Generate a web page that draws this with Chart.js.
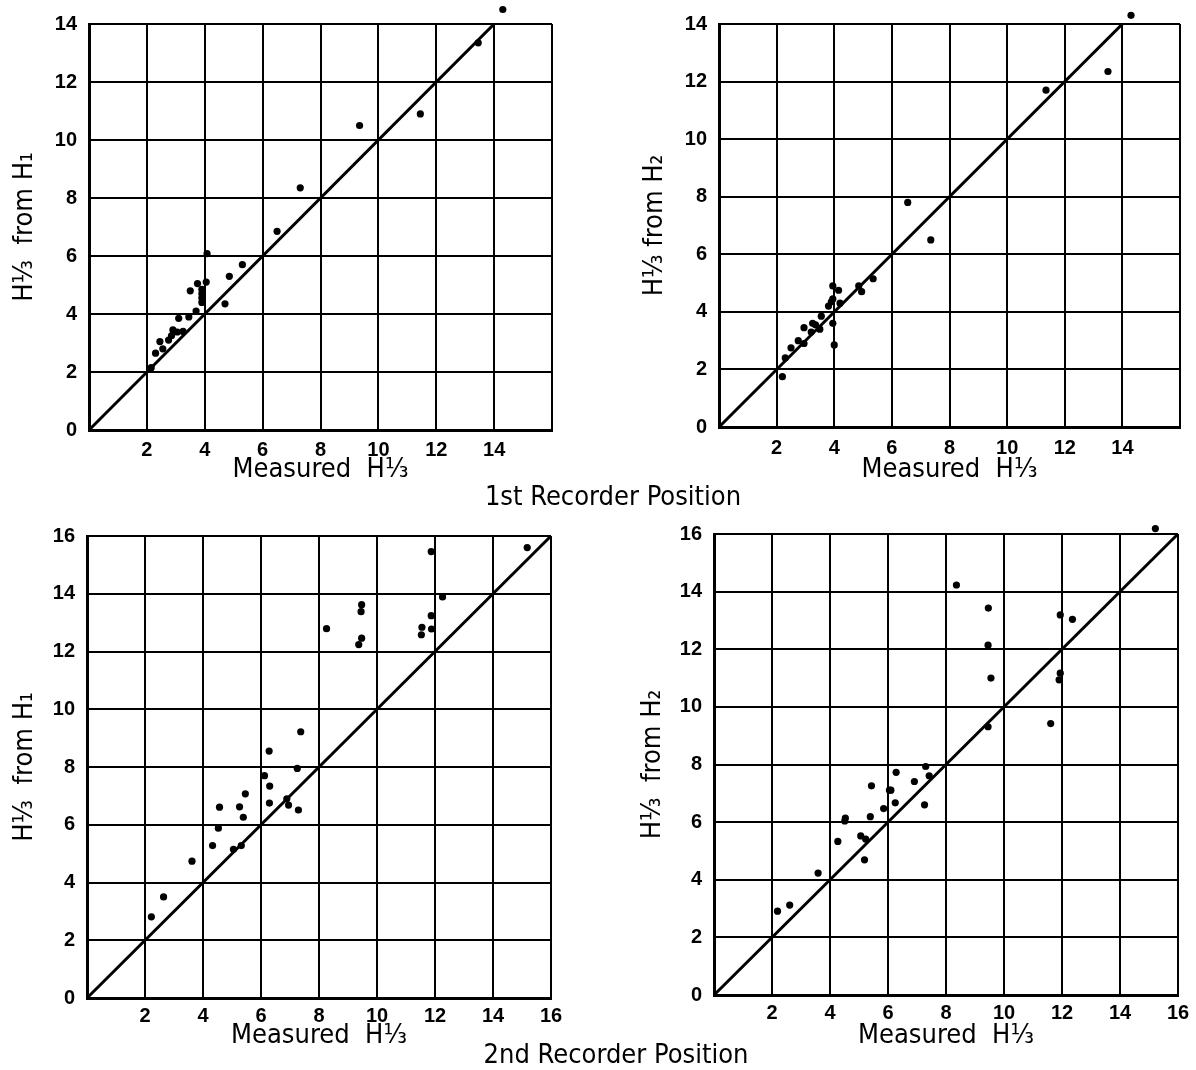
<!DOCTYPE html>
<html>
<head>
<meta charset="utf-8">
<title>Significant wave height comparison</title>
<script src="https://cdn.jsdelivr.net/npm/chart.js@4.4.1/dist/chart.umd.min.js"></script>
<style>
  html, body { margin: 0; padding: 0; background: #fff; }
  body { width: 1196px; height: 1070px; position: relative; overflow: hidden; }
  .panel { position: absolute; }
  .caption {
    position: absolute;
    font-family: "Liberation Sans Narrow", "DejaVu Sans Condensed", sans-serif;
    font-size: 27px;
    line-height: 1;
    color: #000;
    white-space: nowrap;
    transform: translateX(-50%);
  }
</style>
</head>
<body>
<div class="panel" style="left:0;top:0;width:598px;height:490px"><canvas id="first-h1"></canvas></div>
<div class="panel" style="left:630px;top:0;width:566px;height:490px"><canvas id="first-h2"></canvas></div>
<div class="panel" style="left:0;top:500px;width:598px;height:560px"><canvas id="second-h1"></canvas></div>
<div class="panel" style="left:628px;top:500px;width:568px;height:560px"><canvas id="second-h2"></canvas></div>
<div class="caption" style="left:613px;top:482px">1st Recorder Position</div>
<div class="caption" style="left:616px;top:1040px">2nd Recorder Position</div>

<script>
// Measured H1/3 against H1/3 estimated from H1 and H2, two recorder positions.

const firstH1Measured = [2.15, 2.3, 2.45, 2.55, 2.75, 2.85, 2.9, 3.05, 3.25, 3.1, 3.45, 3.5, 3.7, 3.75, 3.9, 3.9, 3.9, 3.9, 4.05, 4.08, 4.7, 4.85, 5.3, 6.5, 7.3, 9.35, 11.45, 13.45, 14.3];
const firstH1Estimate = [2.15, 2.65, 3.05, 2.8, 3.1, 3.25, 3.45, 3.38, 3.4, 3.85, 3.9, 4.8, 4.1, 5.05, 4.4, 4.55, 4.7, 4.85, 5.1, 6.08, 4.35, 5.3, 5.7, 6.85, 8.35, 10.5, 10.9, 13.35, 14.5];

const firstH2Measured = [2.2, 2.3, 2.5, 2.75, 2.95, 2.95, 3.2, 3.25, 3.35, 3.5, 3.55, 3.8, 3.9, 3.95, 3.95, 3.95, 4.0, 4.15, 4.2, 4.85, 4.95, 5.35, 6.55, 7.35, 11.35, 13.5, 14.3];
const firstH2Estimate = [1.75, 2.4, 2.75, 3.0, 2.9, 3.45, 3.3, 3.6, 3.55, 3.4, 3.85, 4.2, 4.35, 4.9, 4.45, 3.6, 2.85, 4.75, 4.3, 4.9, 4.7, 5.15, 7.8, 6.5, 11.7, 12.35, 14.3];

const secondH1Measured = [2.22, 2.64, 3.62, 4.33, 4.53, 4.57, 5.05, 5.26, 5.32, 5.39, 5.46, 6.12, 6.28, 6.29, 6.3, 6.89, 6.95, 7.25, 7.29, 7.37, 8.26, 9.37, 9.45, 9.47, 9.47, 11.53, 11.55, 11.87, 11.88, 11.87, 12.26, 15.18];
const secondH1Estimate = [2.81, 3.5, 4.74, 5.28, 5.88, 6.61, 5.15, 6.62, 5.28, 6.26, 7.07, 7.7, 8.55, 6.75, 7.34, 6.9, 6.68, 7.95, 6.51, 9.22, 12.79, 12.24, 13.38, 12.46, 13.62, 12.58, 12.84, 15.46, 12.78, 13.24, 13.89, 15.6];

const secondH2Measured = [2.19, 2.61, 3.59, 4.27, 4.51, 4.53, 5.06, 5.19, 5.23, 5.39, 5.43, 5.85, 6.05, 6.1, 6.25, 6.28, 6.91, 7.26, 7.3, 7.42, 8.36, 9.45, 9.45, 9.46, 9.55, 11.61, 11.9, 11.94, 11.94, 12.36, 15.22];
const secondH2Estimate = [2.91, 3.12, 4.23, 5.33, 6.04, 6.14, 5.52, 4.69, 5.41, 6.19, 7.26, 6.47, 7.11, 7.11, 6.67, 7.73, 7.41, 6.6, 7.93, 7.61, 14.23, 9.31, 12.14, 13.43, 11.0, 9.42, 10.94, 11.17, 13.19, 13.04, 16.19];

// 1:1 reference line end values
const equalityLine = [0, 16];

const xLabelsFirst = [2, 4, 6, 8, 10, 12, 14];
const xLabelsSecond = [2, 4, 6, 8, 10, 12, 14, 16];

const TICK_FONT = { family: "'Liberation Sans', Arial, sans-serif", size: 20, weight: "bold" };
const TITLE_FONT = { family: "'Liberation Sans Narrow', 'DejaVu Sans Condensed', sans-serif", size: 27, weight: "normal" };

// Point elements skip drawing outside the chart area; redraw those few
// (values just above the top gridline) against the whole canvas.
const overflowPoints = {
  id: "overflowPoints",
  afterDatasetsDraw(chart) {
    const area = chart.chartArea;
    const full = { left: 0, top: 0, right: chart.width, bottom: chart.height };
    const meta = chart.getDatasetMeta(1);
    meta.data.forEach((el) => {
      const inside = el.x >= area.left && el.x <= area.right && el.y >= area.top && el.y <= area.bottom;
      if (!inside) el.draw(chart.ctx, full);
    });
  },
};

function makePanel(id, measured, estimate, opts) {
  const points = measured.map((x, i) => ({ x, y: estimate[i] }));
  const line = equalityLine.map((v) => ({ x: v, y: v }));

  new Chart(document.getElementById(id), {
    type: "scatter",
    data: {
      datasets: [
        {
          type: "line",
          data: line,
          borderColor: "#000",
          borderWidth: 3,
          pointRadius: 0,
          order: 2,
        },
        {
          data: points,
          backgroundColor: "#000",
          borderColor: "#000",
          pointRadius: 3.6,
          borderWidth: 0,
          clip: false,
          order: 1,
        },
      ],
    },
    plugins: [overflowPoints],
    options: {
      responsive: true,
      maintainAspectRatio: false,
      animation: false,
      events: [],
      layout: { padding: { top: opts.top, right: opts.right, left: 0, bottom: 0 } },
      plugins: { legend: { display: false }, tooltip: { enabled: false } },
      scales: {
        x: {
          type: "linear",
          min: 0,
          max: 16,
          afterFit: (s) => { s.height = opts.xBox; },
          ticks: {
            stepSize: 2,
            autoSkip: false,
            maxRotation: 0,
            padding: opts.xTickPad,
            color: "#000",
            font: TICK_FONT,
            callback: (v) => (opts.xLabels.includes(v) ? String(v) : ""),
          },
          grid: { color: "#000", lineWidth: 2, drawTicks: false },
          border: { color: "#000", width: 3 },
          title: {
            display: true,
            text: "Measured  H\u2153",
            color: "#000",
            font: TITLE_FONT,
            padding: { top: 0, bottom: opts.xTitlePad },
          },
        },
        y: {
          type: "linear",
          min: 0,
          max: opts.yMax,
          afterFit: (s) => { s.width = opts.yBox; },
          ticks: {
            stepSize: 2,
            autoSkip: false,
            padding: 12,
            color: "#000",
            font: TICK_FONT,
          },
          grid: { color: "#000", lineWidth: 2, drawTicks: false },
          border: { color: "#000", width: 3 },
          title: {
            display: true,
            text: opts.yTitle,
            color: "#000",
            font: TITLE_FONT,
            padding: { top: 9, bottom: 0 },
          },
        },
      },
    },
  });
}

makePanel("first-h1", firstH1Measured, firstH1Estimate, {
  top: 23, right: 46, xBox: 60, yBox: 89, yMax: 14, xTickPad: 8,
  xLabels: xLabelsFirst, xTitlePad: 4, yTitle: "H\u2153  from H\u2081",
});
makePanel("first-h2", firstH2Measured, firstH2Estimate, {
  top: 22, right: 16, xBox: 63, yBox: 89, yMax: 14, xTickPad: 9,
  xLabels: xLabelsFirst, xTitlePad: 4, yTitle: "H\u2153 from H\u2082",
});
makePanel("second-h1", secondH1Measured, secondH1Estimate, {
  top: 36, right: 47, xBox: 62, yBox: 87, yMax: 16, xTickPad: 6,
  xLabels: xLabelsSecond, xTitlePad: 8, yTitle: "H\u2153  from H\u2081",
});
makePanel("second-h2", secondH2Measured, secondH2Estimate, {
  top: 34, right: 18, xBox: 65, yBox: 86, yMax: 16, xTickPad: 6,
  xLabels: xLabelsSecond, xTitlePad: 8, yTitle: "H\u2153  from H\u2082",
});
</script>
</body>
</html>
